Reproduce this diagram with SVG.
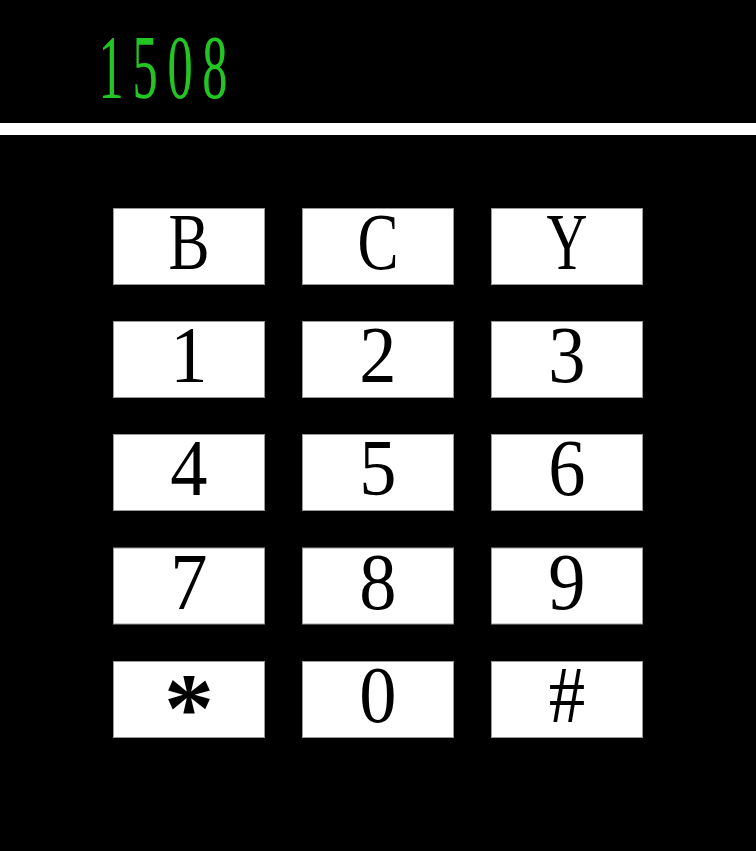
<svg xmlns="http://www.w3.org/2000/svg" width="756" height="851" viewBox="0 0 756 851">
<style>
.key rect{fill:#fff;stroke:#999;stroke-width:1}
.key text{font-family:"Liberation Serif","Times New Roman",serif;font-size:81px;fill:#000;text-anchor:middle}
.disp{font-family:"Liberation Serif","Times New Roman",serif;font-size:90px;fill:#22c522;text-anchor:middle}
</style>
<rect x="0" y="0" width="756" height="851" fill="#000"/>
<g id="display">
<text class="disp" transform="scale(0.56,1)" x="198.2 258.9 321.4 383.9" y="98">1508</text>
</g>
<rect id="divider" x="0" y="123" width="756" height="12" fill="#fff"/>
<g id="key-B" class="key"><rect x="113.5" y="208.5" width="151" height="76"/><text transform="translate(189,269) scale(0.76,1)">B</text></g>
<g id="key-C" class="key"><rect x="302.5" y="208.5" width="151" height="76"/><text transform="translate(378,269) scale(0.76,1)">C</text></g>
<g id="key-Y" class="key"><rect x="491.5" y="208.5" width="151" height="76"/><text transform="translate(567,269) scale(0.7,1)">Y</text></g>
<g id="key-1" class="key"><rect x="113.5" y="321.5" width="151" height="76"/><text transform="translate(189,382) scale(0.92,1)">1</text></g>
<g id="key-2" class="key"><rect x="302.5" y="321.5" width="151" height="76"/><text transform="translate(378,382) scale(0.92,1)">2</text></g>
<g id="key-3" class="key"><rect x="491.5" y="321.5" width="151" height="76"/><text transform="translate(567,382) scale(0.92,1)">3</text></g>
<g id="key-4" class="key"><rect x="113.5" y="434.5" width="151" height="76"/><text transform="translate(189,495) scale(0.92,1)">4</text></g>
<g id="key-5" class="key"><rect x="302.5" y="434.5" width="151" height="76"/><text transform="translate(378,495) scale(0.92,1)">5</text></g>
<g id="key-6" class="key"><rect x="491.5" y="434.5" width="151" height="76"/><text transform="translate(567,495) scale(0.92,1)">6</text></g>
<g id="key-7" class="key"><rect x="113.5" y="548" width="151" height="76"/><text transform="translate(189,608.5) scale(0.92,1)">7</text></g>
<g id="key-8" class="key"><rect x="302.5" y="548" width="151" height="76"/><text transform="translate(378,608.5) scale(0.92,1)">8</text></g>
<g id="key-9" class="key"><rect x="491.5" y="548" width="151" height="76"/><text transform="translate(567,608.5) scale(0.92,1)">9</text></g>
<g id="key-star" class="key"><rect x="113.5" y="661.5" width="151" height="76"/><text transform="translate(189,741)" style="font-size:100px;font-weight:bold">*</text></g>
<g id="key-0" class="key"><rect x="302.5" y="661.5" width="151" height="76"/><text transform="translate(378,722) scale(0.92,1)">0</text></g>
<g id="key-hash" class="key"><rect x="491.5" y="661.5" width="151" height="76"/><text transform="translate(567,722) scale(0.9,1)">#</text></g>
</svg>
